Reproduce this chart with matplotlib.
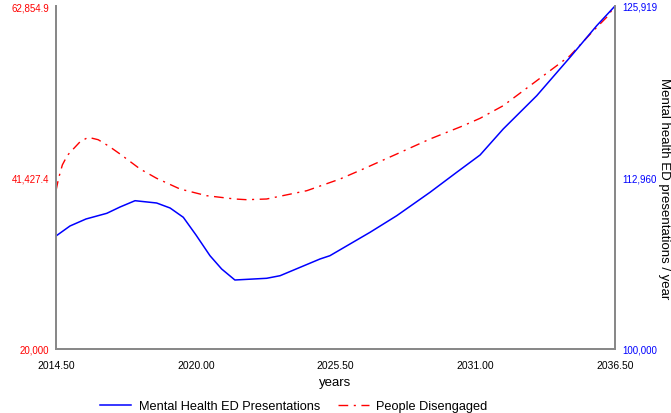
import matplotlib
matplotlib.use("Agg")
import matplotlib.pyplot as plt
from matplotlib.lines import Line2D

plt.rcParams['font.family'] = ['Liberation Sans', 'DejaVu Sans']

# Mental Health ED Presentations (right axis)
ed_years = [2014.50, 2015.05, 2015.68, 2016.50, 2017.02, 2017.61, 2018.46, 2018.99,
            2019.51, 2020.01, 2020.56, 2021.02, 2021.54, 2022.79, 2023.32, 2024.89,
            2025.28, 2026.86, 2027.91, 2029.22, 2030.27, 2031.19, 2032.10, 2033.42,
            2034.73, 2035.78, 2036.50]
ed_values = [108539, 109295, 109824, 110254, 110730, 111206, 111033, 110655,
             109952, 108614, 107050, 106045, 105214, 105343, 105539, 106801,
             107050, 108819, 110073, 111841, 113353, 114660, 116624, 119141,
             122042, 124431, 125919]

# People Disengaged (left axis)
dis_years = [2014.50, 2014.60, 2014.75, 2014.95, 2015.18, 2015.45, 2015.77, 2016.16,
             2016.60, 2017.02, 2017.81, 2018.46, 2019.38, 2020.43, 2021.54, 2022.00,
             2022.79, 2024.37, 2025.68, 2026.59, 2027.91, 2029.22, 2030.53, 2031.19,
             2032.10, 2033.42, 2034.73, 2035.65, 2036.17, 2036.50]
dis_values = [39778, 41300, 43000, 44200, 44988, 45900, 46450, 46150,
              45300, 44363, 42489, 41327, 39990, 39153, 38741, 38654,
              38741, 39778, 41240, 42489, 44363, 46237, 47899, 48824,
              50398, 53522, 56645, 59769, 61443, 62855]

x_ticks = [2014.5, 2020.0, 2025.5, 2031.0, 2036.5]
x_tick_labels = ["2014.50", "2020.00", "2025.50", "2031.00", "2036.50"]
left_ticks = [20000, 41427.4, 62854.9]
left_tick_labels = ["20,000", "41,427.4", "62,854.9"]
right_ticks = [100000, 112960, 125919]
right_tick_labels = ["100,000", "112,960", "125,919"]

fig = plt.figure(figsize=(6.71, 4.14), dpi=100)
ax = fig.add_axes([56/671, 1-350/414, (615-56)/671, (350-7)/414])
ax2 = ax.twinx()

red_dash = (0, (7, 4, 1.5, 4))
ax.plot(dis_years, dis_values, color='#ff0000', lw=1.0, linestyle=red_dash)
ax2.plot(ed_years, ed_values, color='#0000ff', lw=1.1)

ax.set_xlim(2014.5, 2036.5)
ax.set_ylim(20000, 62854.9)
ax2.set_ylim(100000, 125919)

ax.set_xticks(x_ticks)
ax.set_xticklabels(x_tick_labels, fontsize=7.5)
ax.set_yticks(left_ticks)
ax.set_yticklabels(left_tick_labels, fontsize=7, color='#ff0000')
ax2.set_yticks(right_ticks)
ax2.set_yticklabels(right_tick_labels, fontsize=7, color='#0000ff')
ax.tick_params(axis='x', length=0, pad=8)
ax.tick_params(axis='y', length=0, pad=5)
ax2.tick_params(axis='y', length=0, pad=5)

for a in (ax, ax2):
    a.spines['top'].set_visible(False)
    for s in ('left', 'right', 'bottom'):
        a.spines[s].set_color('#888888')
        a.spines[s].set_linewidth(1.3)

ax.set_xlabel("years", fontsize=9.5, labelpad=4)
ax2.set_ylabel("Mental health ED presentations / year", fontsize=9.5, rotation=270,
               va='center')
ax2.yaxis.set_label_coords(1.087, 0.47)

handles = [Line2D([], [], color='#0000ff', lw=1.1),
           Line2D([], [], color='#ff0000', lw=1.0, linestyle=red_dash)]
fig.legend(handles, ["Mental Health ED Presentations", "People Disengaged"],
           loc='center', bbox_to_anchor=(294/671, 1-407/414), ncol=2, frameon=False,
           fontsize=9.2, handlelength=2.4, handletextpad=0.6, columnspacing=1.4)

fig.savefig("out.png", dpi=100)
